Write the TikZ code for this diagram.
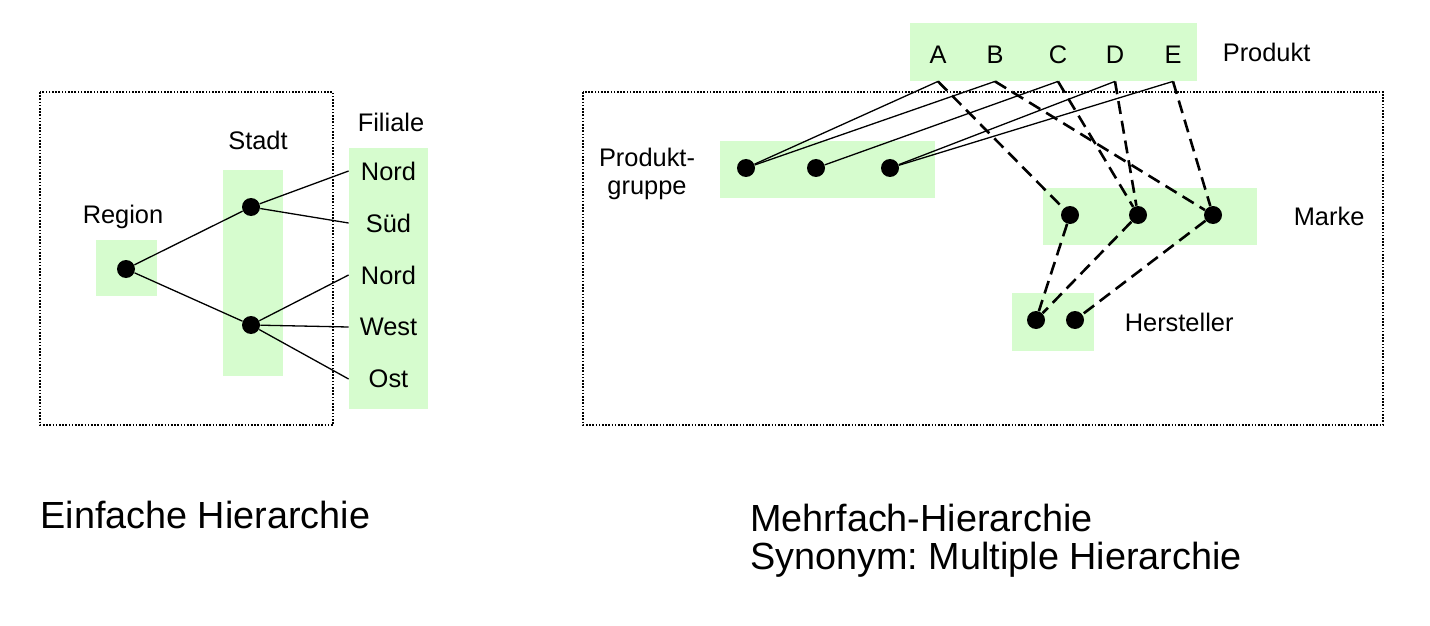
\documentclass[tikz,border=0pt]{standalone}
\usepackage{fontspec}
\setmainfont{Liberation Sans}
\usetikzlibrary{positioning}
\definecolor{hgreen}{RGB}{214,252,206}

\begin{document}
\frenchspacing
\begin{tikzpicture}[x=0.5pt, y=-0.5pt,
  box/.style={fill=hgreen, inner sep=0pt},
  dot/.style={circle, fill=black, inner sep=0pt, minimum size=9pt},
  lbl/.style={font=\fontsize{12.7}{14}\selectfont, inner sep=0pt},
  title/.style={font=\fontsize{18.9}{19}\selectfont, inner sep=0pt, anchor=base west, align=left},
  frame/.style={line width=0.8pt, dash pattern=on 0.8pt off 0.8pt},
  link/.style={line width=0.65pt},
  dlink/.style={line width=1.3pt, dash pattern=on 6.5pt off 3.5pt}]
\useasboundingbox (0,0) rectangle (1430,626);

\draw[frame] (40,92) rectangle (333,425);
\node (rbox) [box, minimum width=30.5pt, minimum height=28pt] at (126.5,268) {};
\node (sbox) [box, minimum width=30pt, minimum height=103pt] at (253,273) {};
\node (fbox) [box, minimum width=39.5pt, minimum height=130.5pt] at (388.5,278.5) {};
\node (region) [lbl] at (123,217) {Region};
\node (stadt) [lbl] at (258,140) {Stadt};
\node (filiale) [lbl] at (391,122) {Filiale};
\node (r) [dot] at (126,269) {};
\node (s1) [dot] at (251,207) {};
\node (s2) [dot] at (251,325) {};
\node (f1) [lbl, minimum width=39.5pt] at (388.5,171) {Nord};
\node (f2) [lbl, minimum width=39.5pt] at (388.5,223) {Süd};
\node (f3) [lbl, minimum width=39.5pt] at (388.5,275) {Nord};
\node (f4) [lbl, minimum width=39.5pt] at (388.5,327) {West};
\node (f5) [lbl, minimum width=39.5pt] at (388.5,379) {Ost};
\draw[link] (r) -- (s1);
\draw[link] (r) -- (s2);
\draw[link] (s1) -- (f1.west);
\draw[link] (s1) -- (f2.west);
\draw[link] (s2) -- (f3.west);
\draw[link] (s2) -- (f4.west);
\draw[link] (s2) -- (f5.west);

\draw[frame] (583,92) rectangle (1383,425);
\node (pbox) [box, minimum width=143.5pt, minimum height=29pt] at (1053.5,52) {};
\node (gbox) [box, minimum width=107.5pt, minimum height=28.5pt] at (827.5,169.5) {};
\node (mbox) [box, minimum width=107pt, minimum height=28.5pt] at (1150,216.5) {};
\node (hbox) [box, minimum width=41pt, minimum height=29pt] at (1053,322) {};
\node (produkt) [lbl, right=12.5pt of pbox] {Produkt};
\node (marke) [lbl, right=18pt of mbox] {Marke};
\node (hersteller) [lbl, right=15pt of hbox] {Hersteller};
\node (pgruppe) [lbl, align=center] at (647,174) {Produkt-\\gruppe};
\node (A) [lbl, minimum height=26pt] at (938,55) {A};
\node (B) [lbl, minimum height=26pt] at (995,55) {B};
\node (C) [lbl, minimum height=26pt] at (1058,55) {C};
\node (D) [lbl, minimum height=26pt] at (1115,55) {D};
\node (E) [lbl, minimum height=26pt] at (1173,55) {E};
\node (g1) [dot] at (746,168) {};
\node (g2) [dot] at (816,168) {};
\node (g3) [dot] at (890,168) {};
\node (m1) [dot] at (1070,215) {};
\node (m2) [dot] at (1138,215) {};
\node (m3) [dot] at (1213,215) {};
\node (h1) [dot] at (1036,320) {};
\node (h2) [dot] at (1075,320) {};
\draw[link] (A.south) -- (g1);
\draw[link] (B.south) -- (g1);
\draw[link] (C.south) -- (g2);
\draw[link] (D.south) -- (g3);
\draw[link] (E.south) -- (g3);
\draw[dlink] (A.south) -- (m1);
\draw[dlink] (B.south) -- (m3);
\draw[dlink] (C.south) -- (m2);
\draw[dlink] (D.south) -- (m2);
\draw[dlink] (E.south) -- (m3);
\draw[dlink] (m1) -- (h1);
\draw[dlink] (m2) -- (h1);
\draw[dlink] (m3) -- (h2);

\node (einfach) [title] at (40,528) {Einfache Hierarchie};
\node (mehrfach) [title] at (750,569) {Mehrfach-Hierarchie\\Synonym: Multiple Hierarchie};
\end{tikzpicture}
\end{document}
